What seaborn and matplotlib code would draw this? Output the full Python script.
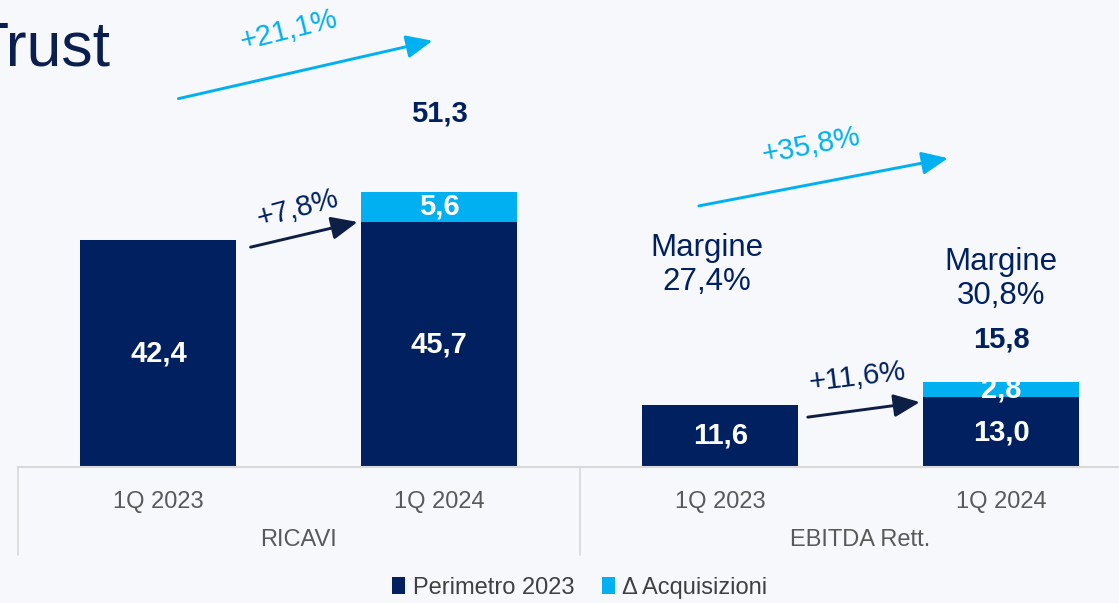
"""Ricavi / EBITDA Rett. 1Q 2023 vs 1Q 2024, stacked bars with growth arrows."""

import matplotlib

matplotlib.use("Agg")

import matplotlib.pyplot as plt
import pandas as pd
import seaborn as sns
from matplotlib.patches import Patch


# data
groups = ["RICAVI", "RICAVI", "EBITDA Rett.", "EBITDA Rett."]
periods = ["1Q 2023", "1Q 2024", "1Q 2023", "1Q 2024"]
perimetro = [42.4, 45.7, 11.6, 13.0]
acquisizioni = [0.0, 5.6, 0.0, 2.8]
total_labels = ["42,4", "51,3", "11,6", "15,8"]
perimetro_labels = ["42,4", "45,7", "11,6", "13,0"]
acquisizioni_labels = ["", "5,6", "", "2,8"]
growth_total = ["+21,1%", "+35,8%"]
growth_organic = ["+7,8%", "+11,6%"]
margins = ["27,4%", "30,8%"]
legend_labels = ["Perimetro 2023", "\u0394 Acquisizioni"]

NAVY = "#002060"
LIGHT = "#00B0F0"
BG = "#F6F8FC"
GRID = "#D9D9D9"
GRAY = "#595959"


def main() -> None:
    sns.set_theme(style="white")
    plt.rcParams["font.family"] = ["Liberation Sans", "DejaVu Sans"]

    df = pd.DataFrame(
        {
            "key": [f"{g} {p}" for g, p in zip(groups, periods)],
            "perimetro": perimetro,
            "totale": [a + b for a, b in zip(perimetro, acquisizioni)],
        }
    )

    fig = plt.figure(figsize=(11.19, 6.03), dpi=100, facecolor=BG)
    ax = fig.add_axes([18 / 1119, 136 / 603, 1101 / 1119, 467 / 603])
    ax.set_facecolor(BG)

    sns.barplot(data=df, x="key", y="totale", color=LIGHT, saturation=1, width=0.555,
                linewidth=0, ax=ax)
    sns.barplot(data=df, x="key", y="perimetro", color=NAVY, saturation=1, width=0.555,
                linewidth=0, ax=ax)

    ax.set_xlim(-0.5, 3.42)
    ax.set_ylim(0, 87.1)
    ax.set_xlabel("")
    ax.set_ylabel("")
    ax.set_yticks([])
    ax.set_xticks(range(len(periods)))
    ax.set_xticklabels(periods)
    ax.tick_params(axis="x", length=0, pad=17, labelsize=17, labelcolor=GRAY)
    for side in ["top", "right", "left"]:
        ax.spines[side].set_visible(False)
    ax.spines["bottom"].set_color(GRID)
    ax.spines["bottom"].set_linewidth(1.5)

    # table-style separators under the axis
    for x in [-0.5, 1.5]:
        ax.plot([x, x], [0, -16.4], color=GRID, lw=1.2, clip_on=False)

    # group labels
    for x, g in [(0.5, groups[0]), (2.5, groups[2])]:
        ax.text(x, -13.6, g, ha="center", va="center", fontsize=17, color=GRAY, clip_on=False)

    # values inside bars
    for i in range(len(periods)):
        ax.text(i, perimetro[i] / 2, perimetro_labels[i], ha="center", va="center",
                fontsize=21, fontweight="bold", color="white")
        if acquisizioni[i] > 0:
            ax.text(i, perimetro[i] + acquisizioni[i] / 2, acquisizioni_labels[i],
                    ha="center", va="center", fontsize=21, fontweight="bold", color="white")

    # totals above stacked bars
    ax.text(1, 66.0, total_labels[1], ha="center", va="center", fontsize=21,
            fontweight="bold", color=NAVY)
    ax.text(3, 23.7, total_labels[3], ha="center", va="center", fontsize=21,
            fontweight="bold", color=NAVY)

    # margins
    ax.text(1.952, 37.7, "Margine\n" + margins[0], ha="center", va="center",
            fontsize=22.5, color=NAVY, linespacing=1.15)
    ax.text(3.0, 35.1, "Margine\n" + margins[1], ha="center", va="center",
            fontsize=22.5, color=NAVY, linespacing=1.15)

    # growth arrows
    arrows = [
        ((0.071, 68.7), (0.976, 79.5), LIGHT, growth_total[0], (0.463, 81.5), 14),
        ((0.328, 41.0), (0.709, 45.7), "#0D1F45", growth_organic[0], (0.495, 48.2), 15),
        ((1.924, 48.7), (2.811, 57.6), LIGHT, growth_total[1], (2.326, 59.9), 11),
        ((2.312, 9.3), (2.711, 12.1), "#0D1F45", growth_organic[1], (2.49, 16.8), 7),
    ]
    for start, end, color, label, pos, rot in arrows:
        ax.annotate(
            "", xy=end, xytext=start,
            arrowprops=dict(arrowstyle="-|>,head_length=0.8,head_width=0.35",
                            color=color, lw=2.1, shrinkA=0, shrinkB=0, mutation_scale=20),
        )
        ax.text(pos[0], pos[1], label, ha="center", va="center", rotation=rot,
                fontsize=21, color=color if color == LIGHT else NAVY)

    # cropped slide title
    fig.text(-29 / 1119, 1 - 66 / 603, "Trust", fontsize=45, color="#0A1F4E",
             ha="left", va="baseline")

    handles = [Patch(facecolor=NAVY, edgecolor="none"), Patch(facecolor=LIGHT, edgecolor="none")]
    fig.legend(handles, legend_labels, loc="center", bbox_to_anchor=(580 / 1119, 15 / 603),
               ncol=2, frameon=False, fontsize=17, labelcolor="#404040",
               handlelength=0.55, handleheight=0.7, handletextpad=0.3, columnspacing=1.2)

    fig.savefig("out.png", dpi=100, facecolor=BG)
    plt.close(fig)


if __name__ == "__main__":
    main()
